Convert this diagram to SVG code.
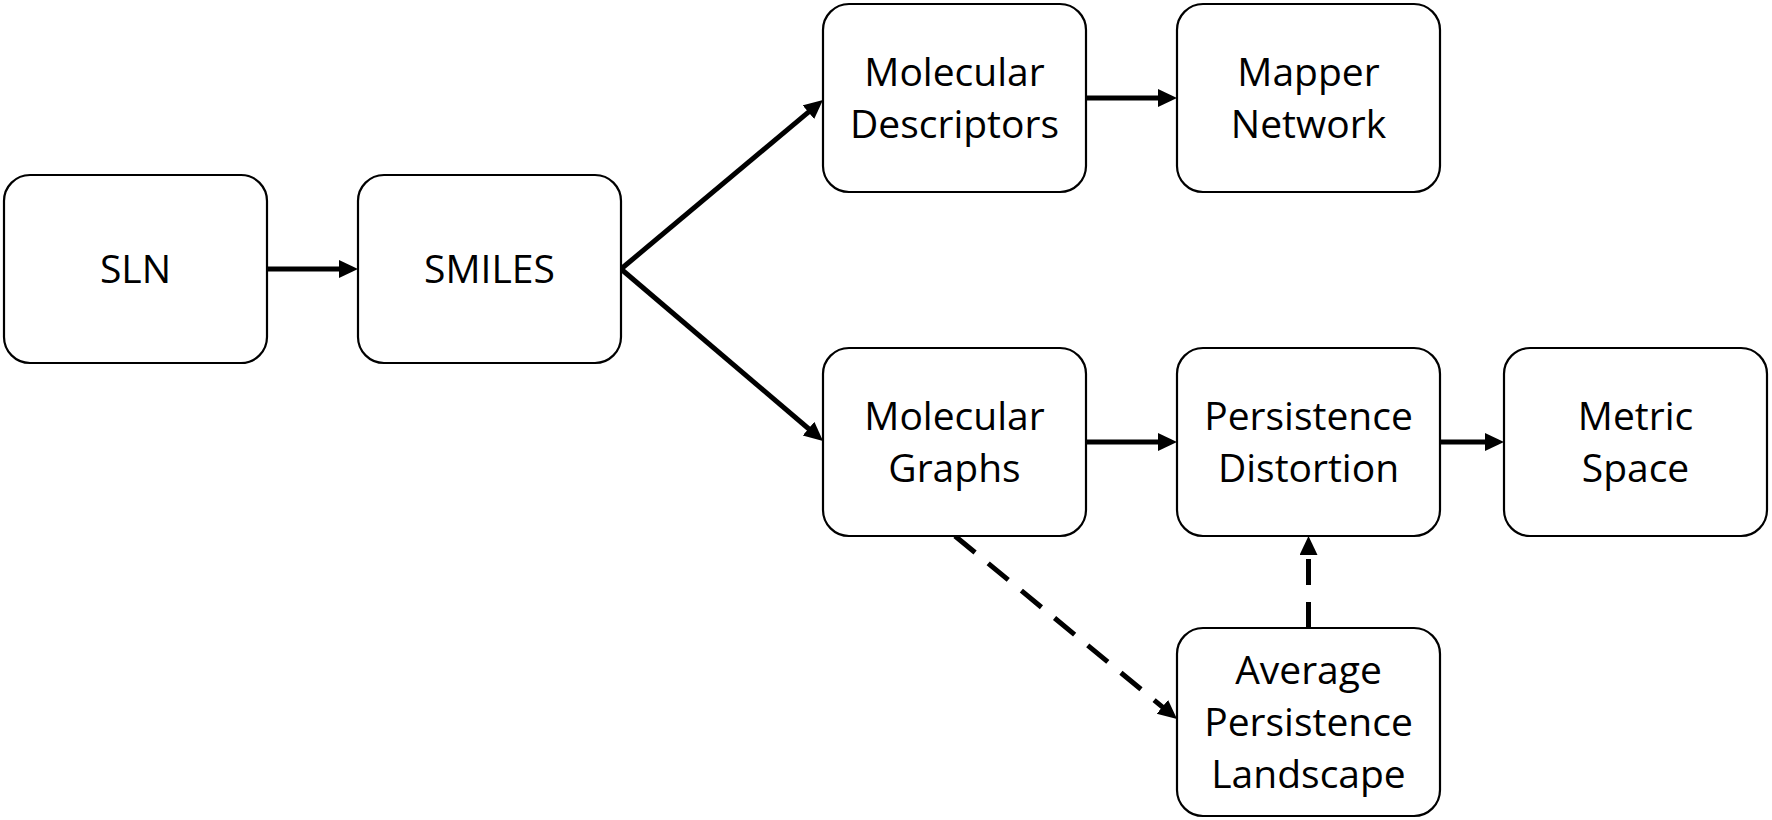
<svg xmlns="http://www.w3.org/2000/svg" width="1772" height="820" viewBox="0 0 1772 820">
<style>
.box{fill:#fff;stroke:#000;stroke-width:2.2}
.lbl{font-family:"Open Sans","Noto Sans",sans-serif;font-size:39px;fill:#000;text-anchor:middle}
.c{stroke:#000;stroke-width:5;fill:none;marker-end:url(#ah)}
.d{stroke-dasharray:26 17}
</style>
<defs>
<marker id="ah" markerUnits="userSpaceOnUse" markerWidth="20" markerHeight="20" refX="9" refY="9" orient="auto">
<path d="M0,0 L19,9 L0,18 z" fill="#000"/>
</marker>
</defs>
<rect width="1772" height="820" fill="#fff"/>
<g id="connectors">
<line class="c" x1="267" y1="269" x2="348" y2="269"/>
<line class="c" x1="621" y1="269" x2="815.3" y2="106.4"/>
<line class="c" x1="621" y1="269" x2="815.4" y2="434.5"/>
<line class="c" x1="1086" y1="98" x2="1167" y2="98"/>
<line class="c" x1="1086" y1="442" x2="1167" y2="442"/>
<line class="c" x1="1440" y1="442" x2="1494" y2="442"/>
<line class="c d" x1="955" y1="536" x2="1169.3" y2="712.6"/>
<line class="c d" x1="1308.5" y1="628" x2="1308.5" y2="546"/>
</g>
<g id="sln"><rect class="box" x="4" y="175" width="263" height="188" rx="26"/><text class="lbl" x="135.5" y="283">SLN</text></g>
<g id="smiles"><rect class="box" x="358" y="175" width="263" height="188" rx="26"/><text class="lbl" x="489.5" y="283">SMILES</text></g>
<g id="molecular-descriptors"><rect class="box" x="823" y="4" width="263" height="188" rx="26"/><text class="lbl" x="954.5" y="86">Molecular</text><text class="lbl" x="954.5" y="138">Descriptors</text></g>
<g id="mapper-network"><rect class="box" x="1177" y="4" width="263" height="188" rx="26"/><text class="lbl" x="1308.5" y="86">Mapper</text><text class="lbl" x="1308.5" y="138">Network</text></g>
<g id="molecular-graphs"><rect class="box" x="823" y="348" width="263" height="188" rx="26"/><text class="lbl" x="954.5" y="430">Molecular</text><text class="lbl" x="954.5" y="482">Graphs</text></g>
<g id="persistence-distortion"><rect class="box" x="1177" y="348" width="263" height="188" rx="26"/><text class="lbl" x="1308.5" y="430">Persistence</text><text class="lbl" x="1308.5" y="482">Distortion</text></g>
<g id="metric-space"><rect class="box" x="1504" y="348" width="263" height="188" rx="26"/><text class="lbl" x="1635.5" y="430">Metric</text><text class="lbl" x="1635.5" y="482">Space</text></g>
<g id="average-persistence-landscape"><rect class="box" x="1177" y="628" width="263" height="188" rx="26"/><text class="lbl" x="1308.5" y="684">Average</text><text class="lbl" x="1308.5" y="736">Persistence</text><text class="lbl" x="1308.5" y="788">Landscape</text></g>
</svg>
